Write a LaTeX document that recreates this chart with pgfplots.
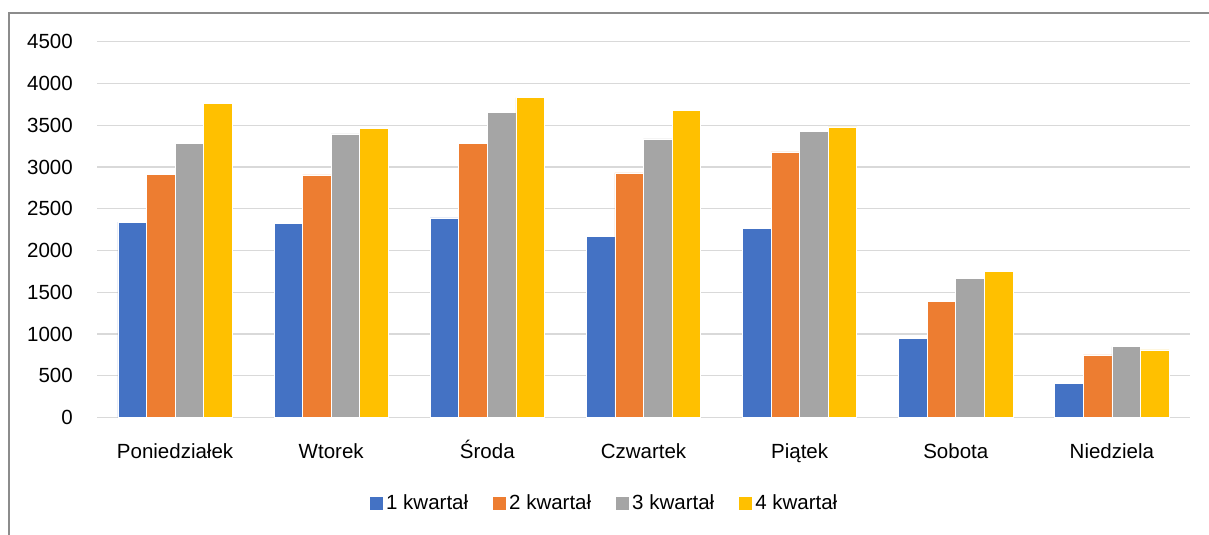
\documentclass[border=0pt]{standalone}
\usepackage{fontspec}
\setmainfont{Liberation Sans}
\usepackage{pgfplots}
\pgfplotsset{compat=1.18}
\definecolor{cA}{HTML}{4472C4}
\definecolor{cB}{HTML}{ED7D31}
\definecolor{cC}{HTML}{A5A5A5}
\definecolor{cD}{HTML}{FFC000}
\definecolor{gridc}{HTML}{D9D9D9}
\definecolor{framec}{HTML}{8C8C8C}
\begin{document}
\begin{tikzpicture}[font=\fontsize{20.5bp}{24bp}\selectfont]
\path[use as bounding box] (0,0) rectangle (1209bp,535bp);
\draw[color=framec, line width=1.3bp] (9bp,0) -- (9bp,522bp) -- (1209bp,522bp);
\begin{axis}[
  at={(97bp,117.5bp)}, anchor=south west,
  scale only axis, width=1093bp, height=375.8bp,
  ymin=0, ymax=4500, xmin=-0.5, xmax=6.5,
  ytick={0,500,...,4500},
  xtick={0,...,6},
  xticklabels={Poniedziałek,Wtorek,Środa,Czwartek,Piątek,Sobota,Niedziela},
  ymajorgrids, grid style={color=gridc, line width=1.3bp},
  axis line style={draw=none},
  major tick length=0pt,
  /pgf/number format/1000 sep={},
  /pgf/number format/assume math mode=true,
  yticklabel style={anchor=east, inner sep=0pt, xshift=-24bp},
  xticklabel style={anchor=base, inner sep=0pt, yshift=-41bp},
  ybar, bar width=0.183,
  every axis plot/.append style={draw=white, line width=0.6bp},
  legend style={at={(0.465,-0.228)}, anchor=center, draw=none, fill=none,
    legend columns=-1,
    /tikz/every even column/.append style={column sep=22bp},
    nodes={inner sep=3bp}},
  legend image code/.code={\path[#1, draw=none] (0bp,-6.5bp) rectangle (13bp,6.5bp);},
]
\addplot[fill=cA, bar shift=-0.2745] coordinates {(0,2340) (1,2325) (2,2390) (3,2165) (4,2265) (5,950) (6,405)};
\addplot[fill=cB, bar shift=-0.0915] coordinates {(0,2915) (1,2905) (2,3280) (3,2930) (4,3180) (5,1390) (6,750)};
\addplot[fill=cC, bar shift=0.0915] coordinates {(0,3280) (1,3395) (2,3655) (3,3335) (4,3425) (5,1665) (6,850)};
\addplot[fill=cD, bar shift=0.2745] coordinates {(0,3760) (1,3460) (2,3830) (3,3675) (4,3480) (5,1745) (6,810)};
\legend{1 kwartał,2 kwartał,3 kwartał,4 kwartał}
\end{axis}
\end{tikzpicture}
\end{document}
